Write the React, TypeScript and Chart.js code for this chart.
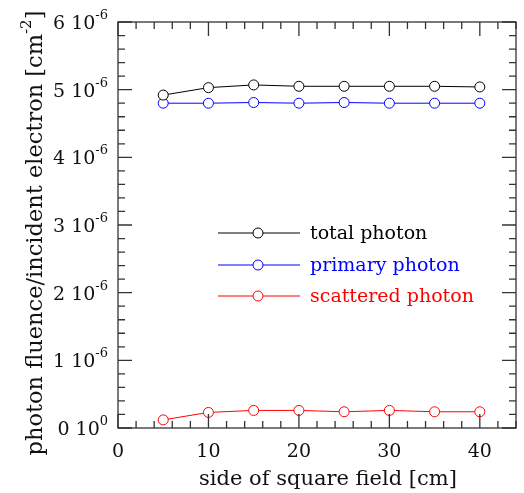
import React, { useEffect, useRef } from "react";
import { Chart, registerables } from "chart.js";
Chart.register(...registerables);

// side of square field [cm]
const fieldSizes = [5, 10, 15, 20, 25, 30, 35, 40];
// photon fluence per incident electron [cm^-2]
const totalPhoton = [4.92e-6, 5.03e-6, 5.07e-6, 5.05e-6, 5.05e-6, 5.05e-6, 5.05e-6, 5.04e-6];
const primaryPhoton = [4.8e-6, 4.8e-6, 4.81e-6, 4.8e-6, 4.81e-6, 4.8e-6, 4.8e-6, 4.8e-6];
const scatteredPhoton = [0.12e-6, 0.23e-6, 0.26e-6, 0.26e-6, 0.24e-6, 0.26e-6, 0.24e-6, 0.24e-6];
const seriesNames = ["total photon", "primary photon", "scattered photon"];
const seriesColors = ["#000000", "#0000ff", "#ff0000"];
const xTickValues = [0, 10, 20, 30, 40];
const yTickMantissas = [0, 1, 2, 3, 4, 5, 6];
const yTickExponent = -6;
const xTitle = "side of square field [cm]";
const yTitleMain = "photon fluence/incident electron [cm";
const yTitleSup = "-2";
const yTitleEnd = "]";

const FONT = '"DejaVu Serif", serif';

const framePlugin = {
  id: "framePlugin",
  afterDraw(chart: any) {
    const ctx = chart.ctx as CanvasRenderingContext2D;
    const xs = chart.scales.x;
    const ys = chart.scales.y;
    const { left, right, top, bottom } = chart.chartArea;
    ctx.save();
    ctx.strokeStyle = "#333";
    ctx.lineWidth = 1.3;
    ctx.strokeRect(left, top, right - left, bottom - top);
    ctx.beginPath();
    for (let v = 0; v <= 44; v += 2) {
      const px = xs.getPixelForValue(v);
      const len = v % 10 === 0 ? 14 : 7;
      ctx.moveTo(px, bottom);
      ctx.lineTo(px, bottom - len);
      ctx.moveTo(px, top);
      ctx.lineTo(px, top + len);
    }
    for (let i = 0; i <= 30; i++) {
      const py = ys.getPixelForValue(i * 0.2e-6);
      const len = i % 5 === 0 ? 14 : 7;
      ctx.moveTo(left, py);
      ctx.lineTo(left + len, py);
      ctx.moveTo(right, py);
      ctx.lineTo(right - len, py);
    }
    ctx.stroke();

    // x tick labels
    ctx.fillStyle = "#111";
    ctx.font = `19px ${FONT}`;
    ctx.textAlign = "center";
    ctx.textBaseline = "alphabetic";
    for (const v of xTickValues) {
      ctx.fillText(String(v), xs.getPixelForValue(v), bottom + 29);
    }
    // y tick labels
    for (const m of yTickMantissas) {
      const py = ys.getPixelForValue(m * Math.pow(10, yTickExponent));
      const main = `${m} 10`;
      const sup = m === 0 ? "0" : String(yTickExponent);
      ctx.font = `19px ${FONT}`;
      const wm = ctx.measureText(main).width;
      ctx.font = `13px ${FONT}`;
      const ws = ctx.measureText(sup).width;
      const xEnd = left - 10;
      ctx.textAlign = "left";
      ctx.font = `19px ${FONT}`;
      ctx.fillText(main, xEnd - wm - ws, py + 7);
      ctx.font = `13px ${FONT}`;
      ctx.fillText(sup, xEnd - ws, py - 3);
    }
    // x title
    ctx.font = `21px ${FONT}`;
    ctx.textAlign = "center";
    ctx.fillText(xTitle, (left + right) / 2 + 11, bottom + 57);
    // y title
    ctx.save();
    ctx.translate(34, 233);
    ctx.rotate(-Math.PI / 2);
    ctx.font = `22.5px ${FONT}`;
    const w1 = ctx.measureText(yTitleMain).width;
    const w3 = ctx.measureText(yTitleEnd).width;
    ctx.font = `15px ${FONT}`;
    const w2 = ctx.measureText(yTitleSup).width;
    const total = w1 + w2 + w3;
    const x0 = -total / 2;
    ctx.textAlign = "left";
    ctx.font = `22.5px ${FONT}`;
    ctx.fillText(yTitleMain, x0, 8);
    ctx.font = `15px ${FONT}`;
    ctx.fillText(yTitleSup, x0 + w1, -3);
    ctx.font = `22.5px ${FONT}`;
    ctx.fillText(yTitleEnd, x0 + w1 + w2, 8);
    ctx.restore();

    // legend
    const rows = [233, 265, 296];
    chart.data.datasets.forEach((ds: any, i: number) => {
      const y = rows[i];
      ctx.strokeStyle = ds.borderColor;
      ctx.lineWidth = 1;
      ctx.beginPath();
      ctx.moveTo(218, y);
      ctx.lineTo(300, y);
      ctx.stroke();
      ctx.beginPath();
      ctx.fillStyle = "#fff";
      ctx.arc(258, y, 5, 0, Math.PI * 2);
      ctx.fill();
      ctx.stroke();
      ctx.fillStyle = ds.borderColor;
      ctx.font = `19px ${FONT}`;
      ctx.textAlign = "left";
      ctx.fillText(ds.label, 310, y + 6);
    });
    ctx.restore();
  },
};

export default function App() {
  const ref = useRef<HTMLCanvasElement>(null);
  useEffect(() => {
    if (!ref.current) return;
    const series = [totalPhoton, primaryPhoton, scatteredPhoton];
    const chart = new Chart(ref.current, {
      type: "line",
      data: {
        datasets: series.map((vals, i) => ({
          label: seriesNames[i],
          data: fieldSizes.map((x, j) => ({ x, y: vals[j] })),
          borderColor: seriesColors[i],
          backgroundColor: "#ffffff",
          pointBackgroundColor: "#ffffff",
          pointBorderColor: seriesColors[i],
          borderWidth: 1,
          pointRadius: 5,
          pointBorderWidth: 1,
          tension: 0,
        })),
      },
      options: {
        animation: false,
        responsive: false,
        devicePixelRatio: 1,
        layout: { padding: { left: 118, right: 8, top: 22, bottom: 65 } },
        plugins: { legend: { display: false }, tooltip: { enabled: false } },
        scales: {
          x: { type: "linear", min: 0, max: 44, display: false },
          y: { type: "linear", min: 0, max: 6e-6, display: false },
        },
      },
      plugins: [framePlugin],
    });
    return () => chart.destroy();
  }, []);
  return (
    <div style={{ position: "absolute", left: 0, top: 0, width: 524, height: 493, background: "#fff" }}>
      <canvas ref={ref} width={524} height={493} style={{ width: 524, height: 493 }} />
    </div>
  );
}
